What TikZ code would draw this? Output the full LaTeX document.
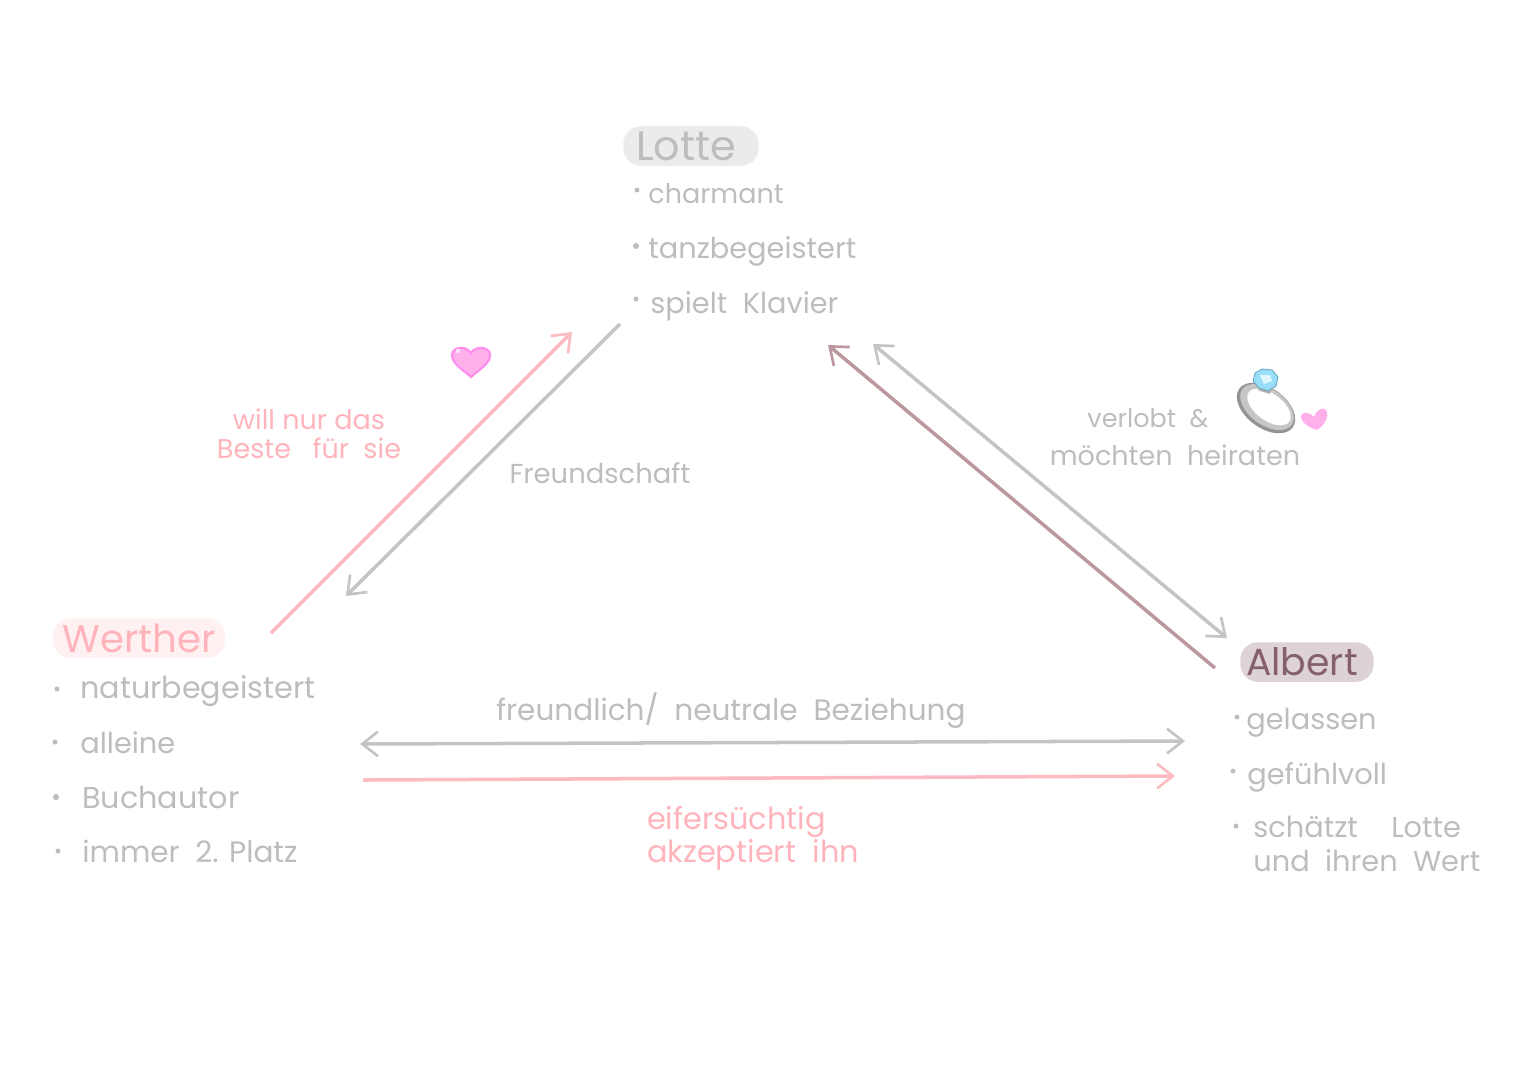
\documentclass[tikz,border=0pt]{standalone}
\usepackage{fontspec}
\setmainfont{Poppins}
\usetikzlibrary{arrows.meta}
\definecolor{txtgray}{HTML}{BDBDBD}
\definecolor{linegray}{HTML}{C4C4C4}
\definecolor{pinkline}{HTML}{FCBBC1}
\definecolor{pinktxt}{HTML}{FFB4BB}
\definecolor{brownline}{HTML}{BC979E}
\definecolor{browntxt}{HTML}{85606B}
\definecolor{heartpink}{HTML}{FFB0EA}
\tikzset{
	namebox/.style={rounded corners=10pt, minimum height=22.5pt, inner ysep=0pt},
	listitem/.style={font=\fontsize{16.4}{17}\selectfont, text=txtgray, anchor=base west, inner sep=0pt},
	lab/.style={font=\fontsize{15.4}{16.5}\selectfont, text=txtgray, align=center, inner sep=0pt},
	pfeil/.style={line width=2pt, -{Straight Barb[length=9pt,width=14pt,line width=1.5pt]}},
	dpfeil/.style={line width=2pt, {Straight Barb[length=9pt,width=14pt,line width=1.5pt]}-{Straight Barb[length=9pt,width=14pt,line width=1.5pt]}},
}
\begin{document}
\begin{tikzpicture}[x=0.02cm, y=-0.02cm]
	\useasboundingbox (0,0) rectangle (1527,1080);
	% 1. Namen
	\node[namebox, fill=black!8, text=txtgray, font=\fontsize{23.5}{24}\selectfont, minimum width=77pt] (lotte) at (691,146) {Lotte\kern5.7pt};
	\node[namebox, fill=pinktxt!20, text=pinktxt, font=\fontsize{22}{24}\selectfont, minimum width=98pt] (werther) at (139,638) {Werther};
	\node[namebox, fill=browntxt!28, text=browntxt, font=\fontsize{21.5}{24}\selectfont, minimum width=75pt] (albert) at (1307,662) {Albert\kern5.7pt};

	% 2. Listen
	\node[listitem, font=\fontsize{15.4}{17}\selectfont] (l1) at (648,203) {charmant};
	\node[listitem] (l2) at (648,258) {tanzbegeistert};
	\node[listitem] (l3) at (650,313) {spielt\ \ Klavier};
	\fill[txtgray] (637,190) circle (2.5) (636,246) circle (3) (636,299) circle (2.5);

	\node[listitem, font=\fontsize{17.2}{17}\selectfont] (w1) at (80,698) {naturbegeistert};
	\node[listitem] (w2) at (80,753) {alleine};
	\node[listitem, font=\fontsize{17.2}{17}\selectfont] (w3) at (82,808) {Buchautor};
	\node[listitem, font=\fontsize{16.8}{17}\selectfont] (w4) at (82,862) {immer\ \ 2. Platz};
	\fill[txtgray] (57,689) circle (2.5) (55,742) circle (2.5) (56,797) circle (3) (58,851) circle (2.5);

	\node[listitem] (a1) at (1246,729) {gelassen};
	\node[listitem] (a2) at (1247,784) {gefühlvoll};
	\node[listitem] (a3) at (1253,837) {schätzt\hspace{19pt}Lotte};
	\node[listitem] (a4) at (1253,871) {und\ \ ihren\ \ Wert};
	\fill[txtgray] (1237,717) circle (2.5) (1233,771) circle (2.5) (1236,826) circle (2.5);

	% 3. Pfeile
	\coordinate (wl1) at (271,633); \coordinate (wl2) at (572,332);
	\coordinate (lw1) at (620,324); \coordinate (lw2) at (346,596);
	\coordinate (al1) at (1215,668); \coordinate (al2) at (828,345);
	\coordinate (la1) at (873,344); \coordinate (la2) at (1227,638);
	\coordinate (wa1) at (360,744); \coordinate (wa2) at (1185,741);
	\coordinate (we1) at (363,780); \coordinate (we2) at (1175,776);
	\draw[pfeil, pinkline] (wl1) -- (wl2);
	\draw[pfeil, linegray] (lw1) -- (lw2);
	\draw[pfeil, brownline] (al1) -- (al2);
	\draw[dpfeil, linegray] (la1) -- (la2);
	\draw[dpfeil, linegray] (wa1) -- (wa2);
	\draw[pfeil, pinkline] (we1) -- (we2);

	% 4. Beschriftung
	\node[lab, text=pinktxt] (nurdas) at (309,434) {will nur das\\Beste\ \ \ für\ \ sie};
	\node[lab, font=\fontsize{15.6}{17}\selectfont] (freund) at (600,473) {Freundschaft};
	\node[lab, font=\fontsize{14.5}{16.5}\selectfont] (verlobt) at (1148,418) {verlobt\ \ \&};
	\node[lab] (heirat) at (1175,455) {möchten\ \ heiraten};
	\node[lab, font=\fontsize{16.8}{17}\selectfont] (neutral) at (731,711) {freundlich/\ \ neutrale\ \ Beziehung};
	\node[lab, text=pinktxt, align=left, font=\fontsize{17.3}{17.6}\selectfont] (eifer) at (753,838) {eifersüchtig\\akzeptiert\ \ ihn};

	% 5. Herzen und Ring
	\draw[line width=1.2pt, draw=heartpink!80!magenta, fill=heartpink] (471,377) .. controls (462,369) and (451,363) .. (452,354) .. controls (453,347) and (466,345) .. (471,353) .. controls (476,345) and (489,347) .. (490,354) .. controls (491,363) and (480,369) .. (471,377) -- cycle;
	\fill[white, opacity=0.7] (458,351) circle (2.2);
	\fill[heartpink] (1317,430) .. controls (1310,428) and (1300,422) .. (1301,416) .. controls (1302,411) and (1310,412) .. (1314,417) .. controls (1316,410) and (1325,405) .. (1327,412) .. controls (1329,419) and (1322,427) .. (1317,430) -- cycle;
	\fill[gray!85, rotate around={-36:(1266,408)}] (1266,408) ellipse (33 and 20);
	\fill[gray!45, rotate around={-36:(1267,407)}] (1267,407) ellipse (30.5 and 18);
	\fill[white, rotate around={-36:(1269,407)}] (1269,407) ellipse (25 and 13.5);
	\fill[gray!60] (1257,390) -- (1273,384) -- (1270,394) -- cycle;
	\fill[cyan!40!white, draw=cyan!45!gray, line width=0.5pt] (1255,373) -- (1262,369) -- (1272,370) -- (1278,377) -- (1276,386) -- (1268,391) -- (1259,388) -- (1253,381) -- cycle;
	\fill[cyan!12!white] (1260,375) -- (1270,375) -- (1272,381) -- (1264,384) -- cycle;
\end{tikzpicture}
\end{document}
